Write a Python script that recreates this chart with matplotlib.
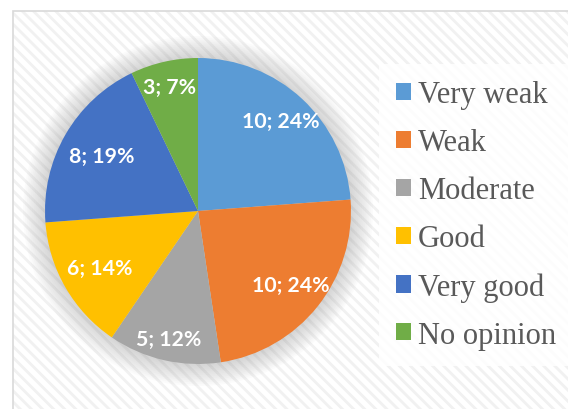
import numpy as np
import matplotlib.pyplot as plt
from matplotlib.patches import Rectangle, Circle, Patch

categories = ['Very weak', 'Weak', 'Moderate', 'Good', 'Very good', 'No opinion']
counts = [10, 10, 5, 6, 8, 3]
colors = ['#5b9bd5', '#ed7d31', '#a5a5a5', '#ffc000', '#4472c4', '#70ad47']

total = sum(counts)
labels = ['%d; %d%%' % (c, round(100.0 * c / total)) for c in counts]
# radial position of each label (fraction of radius), Excel "best fit" look
label_r = [0.8, 0.78, 0.86, 0.745, 0.725, 0.83]

plt.rcParams['hatch.linewidth'] = 2.0

fig = plt.figure(figsize=(5.68, 4.10), dpi=100)

# chart area with diagonal stripes
area = (13 / 568, -0.01), 1.0, 1 - 12 / 410 + 0.01
fig.patches.append(Rectangle(*area, transform=fig.transFigure, facecolor='white',
                             edgecolor='#f1f1f1', hatch='\\\\\\', linewidth=0, zorder=-3))
fig.patches.append(Rectangle(*area, transform=fig.transFigure, facecolor='none',
                             edgecolor='#d9d9d9', linewidth=1.2, zorder=-2))

r = 153
lim = 1.15
w = 2 * r * lim
ax = fig.add_axes([(198 - r * lim) / 568, (410 - 212 - r * lim) / 410, w / 568, w / 410])

# soft shadow around the pie
for i in range(12):
    ax.add_patch(Circle((0.0, 0.0), 1.0 + 0.012 * (i + 1), color='#808080', alpha=0.028,
                        linewidth=0, zorder=1))

wedges, texts = ax.pie(counts, colors=colors, startangle=90, counterclock=False,
                       radius=1.0, labels=labels, labeldistance=0.82,
                       wedgeprops=dict(linewidth=0))
ax.set_xlim(-lim, lim)
ax.set_ylim(-lim, lim)
ax.set_aspect('equal')
ax.axis('off')
for w_ in wedges:
    w_.set_zorder(3)
for w_, t, d in zip(wedges, texts, label_r):
    ang = np.deg2rad((w_.theta1 + w_.theta2) / 2)
    t.set_position((d * np.cos(ang), d * np.sin(ang)))
    t.set_color('white')
    t.set_fontweight('bold')
    t.set_fontsize(15.3)
    t.set_family('Lato')
    t.set_ha('center')
    t.set_va('center')
    t.set_zorder(4)

handles = [Patch(facecolor=c, edgecolor='none') for c in colors]
leg = fig.legend(handles, categories, loc='center left', bbox_to_anchor=(379 / 568, 1 - 216 / 410),
                 frameon=True, fancybox=False, framealpha=0.85, edgecolor='none',
                 prop={'family': 'Liberation Serif', 'size': 22}, labelcolor='#595959',
                 handlelength=0.5, handleheight=0.5, handletextpad=0.22,
                 labelspacing=0.62, borderpad=0.55, borderaxespad=0)

fig.savefig('out.png', dpi=100)
